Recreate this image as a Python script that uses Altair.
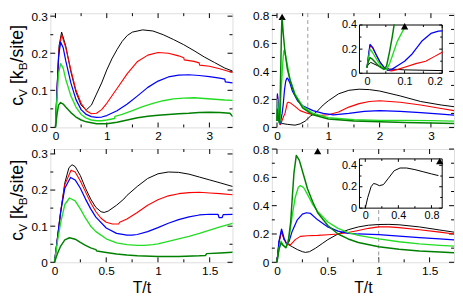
import altair as alt
import pandas as pd

SERIES = ["black", "red", "blue", "lgreen", "dgreen"]
COLORS = ["#000000", "#ff0000", "#0000ff", "#22dd22", "#008000"]
WIDTHS = [1.0, 1.5, 2.5, 2.0, 2.5]

# ---------------- top-left panel ----------------
tl_black_x = [0, 0.03, 0.07, 0.12, 0.2, 0.3, 0.4, 0.5, 0.6, 0.7, 0.8, 0.9, 1.0, 1.1, 1.2, 1.3, 1.4, 1.5, 1.7, 1.9, 2.1, 2.3, 2.5, 2.7, 2.9, 3.1, 3.3, 3.45]
tl_black_y = [0, 0.1, 0.22, 0.257, 0.22, 0.15, 0.095, 0.06, 0.047, 0.06, 0.09, 0.12, 0.155, 0.185, 0.21, 0.232, 0.248, 0.257, 0.263, 0.26, 0.25, 0.237, 0.223, 0.207, 0.19, 0.175, 0.16, 0.152]
tl_red_x = [0, 0.03, 0.07, 0.12, 0.2, 0.3, 0.4, 0.5, 0.6, 0.7, 0.8, 0.9, 1.0, 1.2, 1.4, 1.6, 1.8, 2.0, 2.2, 2.4, 2.5, 2.51, 2.7, 2.8, 2.81, 3.0, 3.2, 3.45]
tl_red_y = [0, 0.1, 0.21, 0.25, 0.215, 0.155, 0.1, 0.065, 0.045, 0.037, 0.038, 0.048, 0.065, 0.105, 0.145, 0.178, 0.195, 0.202, 0.2, 0.193, 0.188, 0.182, 0.178, 0.174, 0.168, 0.165, 0.158, 0.148]
tl_blue_x = [0, 0.03, 0.06, 0.1, 0.15, 0.2, 0.3, 0.4, 0.5, 0.6, 0.7, 0.8, 0.9, 1.0, 1.2, 1.4, 1.6, 1.8, 2.0, 2.2, 2.4, 2.6, 2.8, 3.0, 3.2, 3.3, 3.31, 3.45]
tl_blue_y = [0, 0.1, 0.19, 0.23, 0.215, 0.18, 0.12, 0.075, 0.048, 0.035, 0.029, 0.027, 0.028, 0.032, 0.045, 0.063, 0.085, 0.108, 0.125, 0.136, 0.141, 0.142, 0.14, 0.137, 0.133, 0.13, 0.123, 0.12]
tl_lgreen_x = [0, 0.03, 0.06, 0.1, 0.15, 0.2, 0.3, 0.4, 0.5, 0.6, 0.7, 0.8, 0.9, 1.0, 1.15, 1.16, 1.3, 1.5, 1.7, 1.9, 2.1, 2.3, 2.5, 2.7, 2.9, 3.1, 3.3, 3.45]
tl_lgreen_y = [0, 0.08, 0.145, 0.172, 0.16, 0.13, 0.085, 0.055, 0.035, 0.025, 0.02, 0.018, 0.018, 0.02, 0.024, 0.03, 0.035, 0.045, 0.056, 0.065, 0.072, 0.077, 0.079, 0.08, 0.078, 0.076, 0.074, 0.073]
tl_dgreen_x = [0, 0.03, 0.06, 0.1, 0.15, 0.2, 0.3, 0.4, 0.5, 0.6, 0.8, 1.0, 1.2, 1.4, 1.6, 1.8, 2.0, 2.2, 2.4, 2.6, 2.8, 3.0, 3.2, 3.4, 3.45]
tl_dgreen_y = [0, 0.035, 0.06, 0.067, 0.063, 0.055, 0.04, 0.028, 0.02, 0.015, 0.01, 0.01, 0.014, 0.02, 0.026, 0.03, 0.033, 0.035, 0.037, 0.038, 0.04, 0.041, 0.04, 0.038, 0.03]

# ---------------- top-right panel ----------------
tr_black_x = [0, 0.01, 0.03, 0.06, 0.1, 0.2, 0.35, 0.45, 0.55, 0.65, 0.77, 0.9, 1.0, 1.2, 1.4, 1.6, 1.8, 2.0, 2.4, 2.8, 3.2, 3.45]
tr_black_y = [0.06, 0.09, 0.06, 0.035, 0.028, 0.022, 0.016, 0.025, 0.045, 0.08, 0.11, 0.16, 0.19, 0.24, 0.265, 0.273, 0.27, 0.26, 0.225, 0.185, 0.16, 0.148]
tr_red_x = [0, 0.004, 0.008, 0.015, 0.025, 0.035, 0.045, 0.055, 0.065, 0.08, 0.1, 0.13, 0.156, 0.18, 0.2, 0.22, 0.26, 0.35, 0.45, 0.6, 0.8, 1.0, 1.2, 1.4, 1.6, 1.8, 2.0, 2.4, 2.8, 3.2, 3.45]
tr_red_y = [0.05, 0.14, 0.23, 0.21, 0.15, 0.09, 0.05, 0.025, 0.02, 0.03, 0.05, 0.08, 0.1, 0.14, 0.175, 0.18, 0.175, 0.15, 0.12, 0.1, 0.085, 0.09, 0.11, 0.145, 0.17, 0.185, 0.19, 0.18, 0.16, 0.135, 0.12]
tr_blue_x = [0, 0.004, 0.008, 0.015, 0.025, 0.035, 0.045, 0.055, 0.065, 0.08, 0.1, 0.12, 0.147, 0.17, 0.19, 0.2, 0.21, 0.25, 0.3, 0.4, 0.5, 0.7, 0.9, 1.1, 1.4, 1.7, 2.0, 2.4, 2.8, 3.2, 3.45]
tr_blue_y = [0.05, 0.15, 0.24, 0.215, 0.15, 0.09, 0.05, 0.025, 0.03, 0.06, 0.1, 0.16, 0.27, 0.33, 0.35, 0.352, 0.35, 0.32, 0.26, 0.19, 0.155, 0.12, 0.1, 0.09, 0.1, 0.115, 0.12, 0.115, 0.105, 0.095, 0.088]
tr_lgreen_x = [0, 0.004, 0.008, 0.015, 0.025, 0.035, 0.045, 0.052, 0.06, 0.068, 0.08, 0.1, 0.101, 0.12, 0.135, 0.15, 0.2, 0.25, 0.35, 0.5, 0.7, 1.0, 1.5, 2.0, 2.5, 3.0, 3.45]
tr_lgreen_y = [0.05, 0.12, 0.2, 0.17, 0.12, 0.07, 0.035, 0.03, 0.08, 0.15, 0.26, 0.38, 0.4, 0.5, 0.55, 0.54, 0.45, 0.35, 0.24, 0.15, 0.1, 0.07, 0.055, 0.05, 0.05, 0.048, 0.045]
tr_dgreen_x = [0, 0.004, 0.008, 0.015, 0.025, 0.035, 0.045, 0.052, 0.06, 0.067, 0.072, 0.085, 0.095, 0.105, 0.12, 0.15, 0.2, 0.26, 0.35, 0.5, 0.7, 1.0, 1.5, 2.0, 2.5, 3.0, 3.45]
tr_dgreen_y = [0.05, 0.1, 0.13, 0.115, 0.08, 0.05, 0.032, 0.06, 0.18, 0.3, 0.4, 0.65, 0.77, 0.76, 0.68, 0.56, 0.42, 0.33, 0.23, 0.14, 0.09, 0.06, 0.045, 0.04, 0.035, 0.032, 0.028]

# ---------------- bottom-left panel ----------------
bl_black_x = [0, 0.03, 0.06, 0.1, 0.14, 0.17, 0.2, 0.25, 0.3, 0.35, 0.4, 0.45, 0.48, 0.52, 0.6, 0.67, 0.7, 0.8, 0.9, 1.0, 1.1, 1.2, 1.3, 1.4, 1.5, 1.6, 1.72]
bl_black_y = [0, 0.07, 0.14, 0.22, 0.262, 0.27, 0.265, 0.24, 0.205, 0.175, 0.152, 0.14, 0.138, 0.142, 0.158, 0.175, 0.185, 0.21, 0.232, 0.245, 0.25, 0.249, 0.244, 0.236, 0.228, 0.22, 0.21]
bl_red_x = [0, 0.03, 0.06, 0.1, 0.16, 0.2, 0.25, 0.3, 0.35, 0.4, 0.45, 0.5, 0.56, 0.62, 0.63, 0.7, 0.8, 0.9, 1.0, 1.1, 1.2, 1.3, 1.4, 1.5, 1.6, 1.72]
bl_red_y = [0, 0.07, 0.14, 0.215, 0.255, 0.25, 0.225, 0.195, 0.165, 0.14, 0.122, 0.111, 0.106, 0.106, 0.111, 0.12, 0.138, 0.158, 0.173, 0.184, 0.19, 0.193, 0.194, 0.192, 0.19, 0.187]
bl_blue_x = [0, 0.03, 0.06, 0.1, 0.155, 0.2, 0.25, 0.3, 0.35, 0.4, 0.5, 0.6, 0.7, 0.75, 0.8, 0.9, 1.0, 1.1, 1.2, 1.3, 1.4, 1.5, 1.58, 1.59, 1.62, 1.63, 1.72]
bl_blue_y = [0, 0.07, 0.14, 0.205, 0.235, 0.228, 0.205, 0.175, 0.148, 0.125, 0.095, 0.08, 0.075, 0.075, 0.077, 0.085, 0.096, 0.108, 0.118, 0.126, 0.131, 0.133, 0.133, 0.124, 0.124, 0.132, 0.133]
bl_lgreen_x = [0, 0.03, 0.06, 0.1, 0.145, 0.2, 0.25, 0.3, 0.35, 0.4, 0.5, 0.6, 0.7, 0.8, 0.87, 0.95, 1.0, 1.1, 1.2, 1.3, 1.4, 1.5, 1.6, 1.72]
bl_lgreen_y = [0, 0.06, 0.11, 0.16, 0.178, 0.17, 0.148, 0.122, 0.1, 0.085, 0.065, 0.054, 0.049, 0.047, 0.047, 0.049, 0.051, 0.058, 0.065, 0.072, 0.08, 0.089, 0.098, 0.108]
bl_dgreen_x = [0, 0.03, 0.06, 0.1, 0.145, 0.2, 0.25, 0.3, 0.35, 0.4, 0.41, 0.5, 0.6, 0.7, 0.8, 1.0, 1.2, 1.4, 1.46, 1.47, 1.6, 1.72]
bl_dgreen_y = [0, 0.025, 0.045, 0.062, 0.068, 0.064, 0.055, 0.047, 0.04, 0.035, 0.031, 0.027, 0.023, 0.02, 0.018, 0.016, 0.016, 0.018, 0.019, 0.024, 0.026, 0.028]

# ---------------- bottom-right panel ----------------
br_black_x = [0, 0.02, 0.045, 0.07, 0.1, 0.15, 0.2, 0.25, 0.28, 0.32, 0.38, 0.45, 0.5, 0.6, 0.7, 0.8, 0.9, 1.0, 1.1, 1.2, 1.4, 1.6, 1.74]
br_black_y = [0, 0.14, 0.22, 0.16, 0.13, 0.11, 0.09, 0.075, 0.07, 0.075, 0.1, 0.135, 0.16, 0.2, 0.23, 0.25, 0.262, 0.267, 0.268, 0.265, 0.25, 0.228, 0.213]
br_red_x = [0, 0.02, 0.045, 0.07, 0.1, 0.135, 0.18, 0.23, 0.3, 0.4, 0.5, 0.6, 0.7, 0.8, 0.9, 1.0, 1.1, 1.2, 1.4, 1.6, 1.74]
br_red_y = [0, 0.14, 0.22, 0.16, 0.13, 0.125, 0.16, 0.183, 0.188, 0.19, 0.195, 0.2, 0.21, 0.225, 0.24, 0.25, 0.25, 0.245, 0.23, 0.213, 0.2]
br_blue_x = [0, 0.02, 0.045, 0.07, 0.096, 0.12, 0.15, 0.2, 0.25, 0.29, 0.33, 0.4, 0.5, 0.6, 0.7, 0.8, 1.0, 1.2, 1.4, 1.6, 1.74]
br_blue_y = [0, 0.15, 0.235, 0.17, 0.125, 0.15, 0.22, 0.3, 0.34, 0.35, 0.345, 0.3, 0.25, 0.22, 0.205, 0.2, 0.195, 0.185, 0.175, 0.165, 0.158]
br_lgreen_x = [0, 0.02, 0.04, 0.06, 0.09, 0.12, 0.15, 0.18, 0.21, 0.23, 0.26, 0.3, 0.35, 0.4, 0.5, 0.6, 0.7, 0.8, 1.0, 1.2, 1.4, 1.6, 1.74]
br_lgreen_y = [0, 0.1, 0.15, 0.12, 0.105, 0.18, 0.33, 0.46, 0.53, 0.542, 0.53, 0.48, 0.41, 0.36, 0.285, 0.24, 0.21, 0.19, 0.165, 0.145, 0.13, 0.12, 0.114]
br_dgreen_x = [0, 0.02, 0.04, 0.06, 0.087, 0.11, 0.135, 0.15, 0.167, 0.19, 0.22, 0.26, 0.3, 0.35, 0.4, 0.5, 0.6, 0.7, 0.8, 1.0, 1.2, 1.4, 1.6, 1.74]
br_dgreen_y = [0, 0.09, 0.137, 0.12, 0.103, 0.14, 0.285, 0.45, 0.63, 0.755, 0.72, 0.62, 0.52, 0.43, 0.35, 0.26, 0.2, 0.165, 0.14, 0.11, 0.092, 0.08, 0.072, 0.068]

# bottom-right inset (single black curve)
bri_x = [0, 0.03, 0.07, 0.1, 0.13, 0.17, 0.22, 0.28, 0.35, 0.42, 0.5, 0.6, 0.7, 0.8, 0.88]
bri_y = [0, 0.1, 0.2, 0.23, 0.225, 0.21, 0.22, 0.28, 0.35, 0.375, 0.375, 0.36, 0.34, 0.32, 0.305]

# markers
tr_tri_x, tr_tri_y = [0.1], [0.79]
br_tri_x, br_tri_y = [0.4], [0.785]
tri_inset_tr_x, tri_inset_tr_y = [0.1], [0.39]
tri_inset_br_x, tri_inset_br_y = [0.9], [0.44]
tr_dash_x = 0.6
br_dash_x = 1.0

FONT = "Liberation Sans"
W = 185
HT = 116
HB = 115


def curves_df(curves, xmax=None, ymax=None):
    rows = []
    for s in SERIES:
        if s not in curves:
            continue
        xs, ys = curves[s]
        for i, (a, b) in enumerate(zip(xs, ys)):
            if xmax is not None and a > xmax + 1e-9:
                break
            rows.append({"x": a, "y": b, "s": s, "i": i})
            if ymax is not None and b >= ymax - 1e-9:
                break
    return pd.DataFrame(rows)


def lines(df, xs, ys, xa, ya, clip=True):
    return alt.Chart(df).mark_line(clip=clip, strokeJoin="round", strokeCap="round").encode(
        x=alt.X("x:Q", scale=xs, axis=xa),
        y=alt.Y("y:Q", scale=ys, axis=ya),
        color=alt.Color("s:N", scale=alt.Scale(domain=SERIES, range=COLORS), legend=None),
        strokeWidth=alt.StrokeWidth("s:N", scale=alt.Scale(domain=SERIES, range=WIDTHS), legend=None),
        order=alt.Order("i:Q"),
    )


def ticks(values, scale, ax, along, box, length):
    x0, x1, y0, y1 = box
    df = pd.DataFrame({"v": values})
    base = alt.Chart(df).mark_rule(color="black", strokeWidth=1)
    if along == "x":
        e = dict(x=alt.X("v:Q", scale=scale, axis=ax))
        return [base.encode(**e, y=alt.value(y1), y2=alt.value(y1 - length)),
                base.encode(**e, y=alt.value(y0), y2=alt.value(y0 + length))]
    e = dict(y=alt.Y("v:Q", scale=scale, axis=ax))
    return [base.encode(**e, x=alt.value(x0), x2=alt.value(x0 + length)),
            base.encode(**e, x=alt.value(x1), x2=alt.value(x1 - length))]


def tri(xv, yv, xs, ys, xa, ya):
    return alt.Chart(pd.DataFrame({"x": xv, "y": yv})).mark_point(
        shape="triangle-up", filled=True, color="black", opacity=1, size=55
    ).encode(x=alt.X("x:Q", scale=xs, axis=xa), y=alt.Y("y:Q", scale=ys, axis=ya))


def ytitle(H):
    # pieces: text, font size, offset along the (upward) reading direction, subscript shift
    parts = [("c", 18, 0, 0), ("V", 12, 9, 4.5), ("[k", 18, 22, 0), ("B", 12, 36, 4.5), ("/site]", 18, 44, 0)]
    base_x, base_y = -28, H - 22
    out = []
    for txt, fs, along, sub in parts:
        out.append(alt.Chart(pd.DataFrame({"t": [txt]})).mark_text(
            angle=270, align="left", baseline="alphabetic", font=FONT, fontSize=fs, color="black"
        ).encode(text="t:N", x=alt.value(base_x + sub), y=alt.value(base_y - along)))
    return out


def panel(curves, xdom, ydom, H, xmaj, xmin, ymaj, ymin, xfmt, yexpr, xtitle, ytitle_on, extra=None):
    xs = alt.Scale(domain=xdom, nice=False, zero=False)
    ys = alt.Scale(domain=ydom, nice=False, zero=False)
    xa = alt.Axis(values=xmaj, format=xfmt, ticks=False, domain=False, grid=False,
                  labelFont=FONT, labelFontSize=12, labelPadding=3, labelColor="black",
                  title=xtitle if xtitle else None, titleFont=FONT, titleFontSize=16,
                  titleFontWeight="normal", titlePadding=4, titleColor="black")
    ya = alt.Axis(values=ymaj, labelExpr=yexpr, ticks=False, domain=False, grid=False,
                  labelFont=FONT, labelFontSize=12, labelPadding=3, labelColor="black", title=None)
    box = (0, W, 0, H)
    layers = []
    layers += ticks(xmaj, xs, xa, "x", box, 5) + ticks(xmin, xs, xa, "x", box, 3)
    layers += ticks(ymaj, ys, ya, "y", box, 5) + ticks(ymin, ys, ya, "y", box, 3)
    if extra:
        layers += extra(xs, ys, xa, ya)
    layers.append(lines(curves_df(curves), xs, ys, xa, ya))
    if ytitle_on:
        layers += ytitle(H)
    return alt.layer(*layers).properties(width=W, height=H)


def inset(curves, xdom, ydom, box, xmaj, xmin, ymaj, ymin, tri_xy, PH):
    x0, x1, y0, y1 = box
    xs = alt.Scale(domain=xdom, range=[x0, x1], nice=False, zero=False)
    ys = alt.Scale(domain=ydom, range=[y1, y0], nice=False, zero=False)
    xa = alt.Axis(orient="bottom", offset=-(PH - y1), values=xmaj, format="~g", ticks=False,
                  domain=False, grid=False, labelFont=FONT, labelFontSize=11, labelPadding=2,
                  labelColor="black", title=None)
    ya = alt.Axis(orient="left", offset=-x0, values=ymaj, format="~g", ticks=False,
                  domain=False, grid=False, labelFont=FONT, labelFontSize=11, labelPadding=3,
                  labelColor="black", title=None)
    frame = alt.Chart(pd.DataFrame({"a": [xdom[0]], "b": [xdom[1]], "c": [ydom[0]], "d": [ydom[1]]})).mark_rect(
        fill="white", stroke="black", strokeWidth=1
    ).encode(x=alt.X("a:Q", scale=xs, axis=xa), x2="b:Q", y=alt.Y("c:Q", scale=ys, axis=ya), y2="d:Q")
    layers = [frame]
    layers += ticks(xmaj, xs, xa, "x", box, 3) + ticks(xmin, xs, xa, "x", box, 2)
    layers += ticks(ymaj, ys, ya, "y", box, 3) + ticks(ymin, ys, ya, "y", box, 2)
    df = curves_df(curves, xmax=xdom[1], ymax=ydom[1])
    layers.append(lines(df, xs, ys, xa, ya, clip=False))
    layers.append(tri(tri_xy[0], tri_xy[1], xs, ys, xa, ya))
    return alt.layer(*layers)


Y0 = "datum.value == 0 ? '0' : format(datum.value, '.1f')"

tl_curves = {"black": (tl_black_x, tl_black_y), "red": (tl_red_x, tl_red_y), "blue": (tl_blue_x, tl_blue_y),
             "lgreen": (tl_lgreen_x, tl_lgreen_y), "dgreen": (tl_dgreen_x, tl_dgreen_y)}
tr_curves = {"black": (tr_black_x, tr_black_y), "red": (tr_red_x, tr_red_y), "blue": (tr_blue_x, tr_blue_y),
             "lgreen": (tr_lgreen_x, tr_lgreen_y), "dgreen": (tr_dgreen_x, tr_dgreen_y)}
bl_curves = {"black": (bl_black_x, bl_black_y), "red": (bl_red_x, bl_red_y), "blue": (bl_blue_x, bl_blue_y),
             "lgreen": (bl_lgreen_x, bl_lgreen_y), "dgreen": (bl_dgreen_x, bl_dgreen_y)}
br_curves = {"black": (br_black_x, br_black_y), "red": (br_red_x, br_red_y), "blue": (br_blue_x, br_blue_y),
             "lgreen": (br_lgreen_x, br_lgreen_y), "dgreen": (br_dgreen_x, br_dgreen_y)}


def tr_extra(xs, ys, xa, ya):
    dash = alt.Chart(pd.DataFrame({"x": [tr_dash_x], "y": [0.0], "y2": [0.816]})).mark_rule(
        color="#999999", strokeDash=[4, 3], strokeWidth=1
    ).encode(x=alt.X("x:Q", scale=xs, axis=xa), y=alt.Y("y:Q", scale=ys, axis=ya), y2="y2:Q")
    return [dash, tri(tr_tri_x, tr_tri_y, xs, ys, xa, ya)]


def br_extra(xs, ys, xa, ya):
    dash = alt.Chart(pd.DataFrame({"x": [br_dash_x], "y": [0.0], "y2": [0.38]})).mark_rule(
        color="#999999", strokeDash=[4, 3], strokeWidth=1
    ).encode(x=alt.X("x:Q", scale=xs, axis=xa), y=alt.Y("y:Q", scale=ys, axis=ya), y2="y2:Q")
    return [dash, tri(br_tri_x, br_tri_y, xs, ys, xa, ya)]


tl = panel(tl_curves, [-0.1, 3.45], [0, 0.308], HT, [0, 1, 2, 3], [0.5, 1.5, 2.5], [0, 0.1, 0.2, 0.3],
           [0.05, 0.15, 0.25], "~g", "format(datum.value, '.1f')", None, True)
tr_main = panel(tr_curves, [-0.1, 3.45], [0, 0.816], HT, [0, 1, 2, 3], [0.5, 1.5, 2.5], [0, 0.2, 0.4, 0.6, 0.8],
                [0.1, 0.3, 0.5, 0.7], "~g", Y0, None, False, tr_extra)
tr_in = inset(tr_curves, [-0.02, 0.2], [0, 0.4], (89, 173, 12, 61), [0, 0.1, 0.2], [0.05, 0.15],
              [0, 0.2, 0.4], [0.1, 0.3], (tri_inset_tr_x, tri_inset_tr_y), HT)
tr = alt.layer(tr_main, tr_in).resolve_scale(x="independent", y="independent").properties(width=W, height=HT)

bl = panel(bl_curves, [-0.04, 1.72], [0, 0.3135], HB, [0, 0.5, 1, 1.5], [0.25, 0.75, 1.25], [0, 0.1, 0.2, 0.3],
           [0.05, 0.15, 0.25], "~g", Y0, "T/t", True)
br_main = panel(br_curves, [-0.05, 1.74], [0, 0.8], HB, [0, 0.5, 1, 1.5], [0.25, 0.75, 1.25], [0, 0.2, 0.4, 0.6, 0.8],
                [0.1, 0.3, 0.5, 0.7], "~g", Y0, "T/t", False, br_extra)
br_in = inset({"black": (bri_x, bri_y)}, [-0.07, 0.93], [0, 0.46], (89, 173, 10, 60), [0, 0.4, 0.8], [0.2, 0.6],
              [0, 0.2, 0.4], [0.1, 0.3], (tri_inset_br_x, tri_inset_br_y), HB)
br = alt.layer(br_main, br_in).resolve_scale(x="independent", y="independent").properties(width=W, height=HB)

chart = alt.concat(tl, tr, bl, br, columns=2, spacing={"row": 22, "column": 40}, bounds="flush").properties(
    padding={"left": 0, "top": -2, "right": 0, "bottom": 0}
).configure_view(stroke="black", strokeWidth=1).configure(background="white")

chart.save("out.html", embed_options={"renderer": "svg", "actions": False})
